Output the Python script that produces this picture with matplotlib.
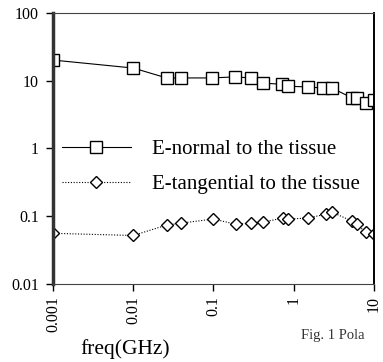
import matplotlib
matplotlib.use("Agg")
import matplotlib.pyplot as plt

plt.rcParams.update({
    "font.family": ["Liberation Serif", "DejaVu Serif"],
    "font.size": 11,
})

# E-normal to the tissue (freq in GHz)
freq_normal = [0.001, 0.01, 0.026, 0.039, 0.095, 0.185, 0.29, 0.41,
               0.71, 0.85, 1.5, 2.3, 3.0, 5.3, 6.1, 7.9, 10]
e_normal = [20.2, 15.4, 11.0, 11.0, 11.0, 11.4, 11.0, 9.2,
            8.9, 8.3, 8.1, 7.8, 7.8, 5.6, 5.6, 4.7, 5.2]

# E-tangential to the tissue
freq_tang = [0.001, 0.01, 0.026, 0.039, 0.1, 0.19, 0.29, 0.41,
             0.74, 0.85, 1.5, 2.5, 3.0, 5.3, 6.1, 7.9, 10]
e_tang = [0.056, 0.052, 0.074, 0.079, 0.091, 0.076, 0.079, 0.082,
          0.094, 0.091, 0.094, 0.107, 0.115, 0.085, 0.076, 0.058, 0.054]

x_ticks = [0.001, 0.01, 0.1, 1, 10]
x_labels = ["0.001", "0.01", "0.1", "1", "10"]
y_ticks = [0.01, 0.1, 1, 10, 100]
y_labels = ["0.01", "0.1", "1", "10", "100"]

fig = plt.figure(figsize=(3.83, 3.62), dpi=100)
ax = fig.add_axes([0.1384, 0.2155, 0.838, 0.7486])

ax.plot(freq_normal, e_normal, color="black", lw=0.8, ls="-",
        marker="s", ms=8, mfc="white", mec="black", mew=1.0,
        label="E-normal to the tissue")
ax.plot(freq_tang, e_tang, color="black", lw=0.8, ls=(0, (1, 1.5)),
        marker="D", ms=6, mfc="white", mec="black", mew=1.0,
        label="E-tangential to the tissue")

ax.set_xscale("log")
ax.set_yscale("log")
ax.set_xlim(0.001, 10)
ax.set_ylim(0.01, 100)
ax.set_xticks(x_ticks)
ax.set_xticklabels(x_labels, rotation=90)
ax.set_yticks(y_ticks)
ax.set_yticklabels(y_labels)
ax.minorticks_off()
ax.tick_params(axis="both", direction="out", length=5, width=1.0,
               labelsize=11.5, colors="black")
ax.tick_params(axis="y", pad=5)
ax.tick_params(axis="x", pad=4)

for side in ["top", "bottom"]:
    ax.spines[side].set_linewidth(0.8)
    ax.spines[side].set_linestyle((0, (3, 1)))
    ax.spines[side].set_color("#444444")
ax.spines["left"].set_linewidth(2.5)
ax.spines["left"].set_color("#333333")
ax.spines["right"].set_linewidth(1.4)

ax.legend(loc="upper left", bbox_to_anchor=(0.162, 0.615),
          bbox_transform=fig.transFigure, frameon=False, fontsize=15,
          handlelength=3.3, handletextpad=1.0, labelspacing=0.75,
          borderpad=0, borderaxespad=0)

fig.text(0.327, 0.035, "freq(GHz)", ha="center", va="center", fontsize=15.5)
fig.text(0.785, 0.072, "Fig. 1 Pola", ha="left", va="center",
         fontsize=10.5, color="#333333")

fig.savefig("out.png", dpi=100)
